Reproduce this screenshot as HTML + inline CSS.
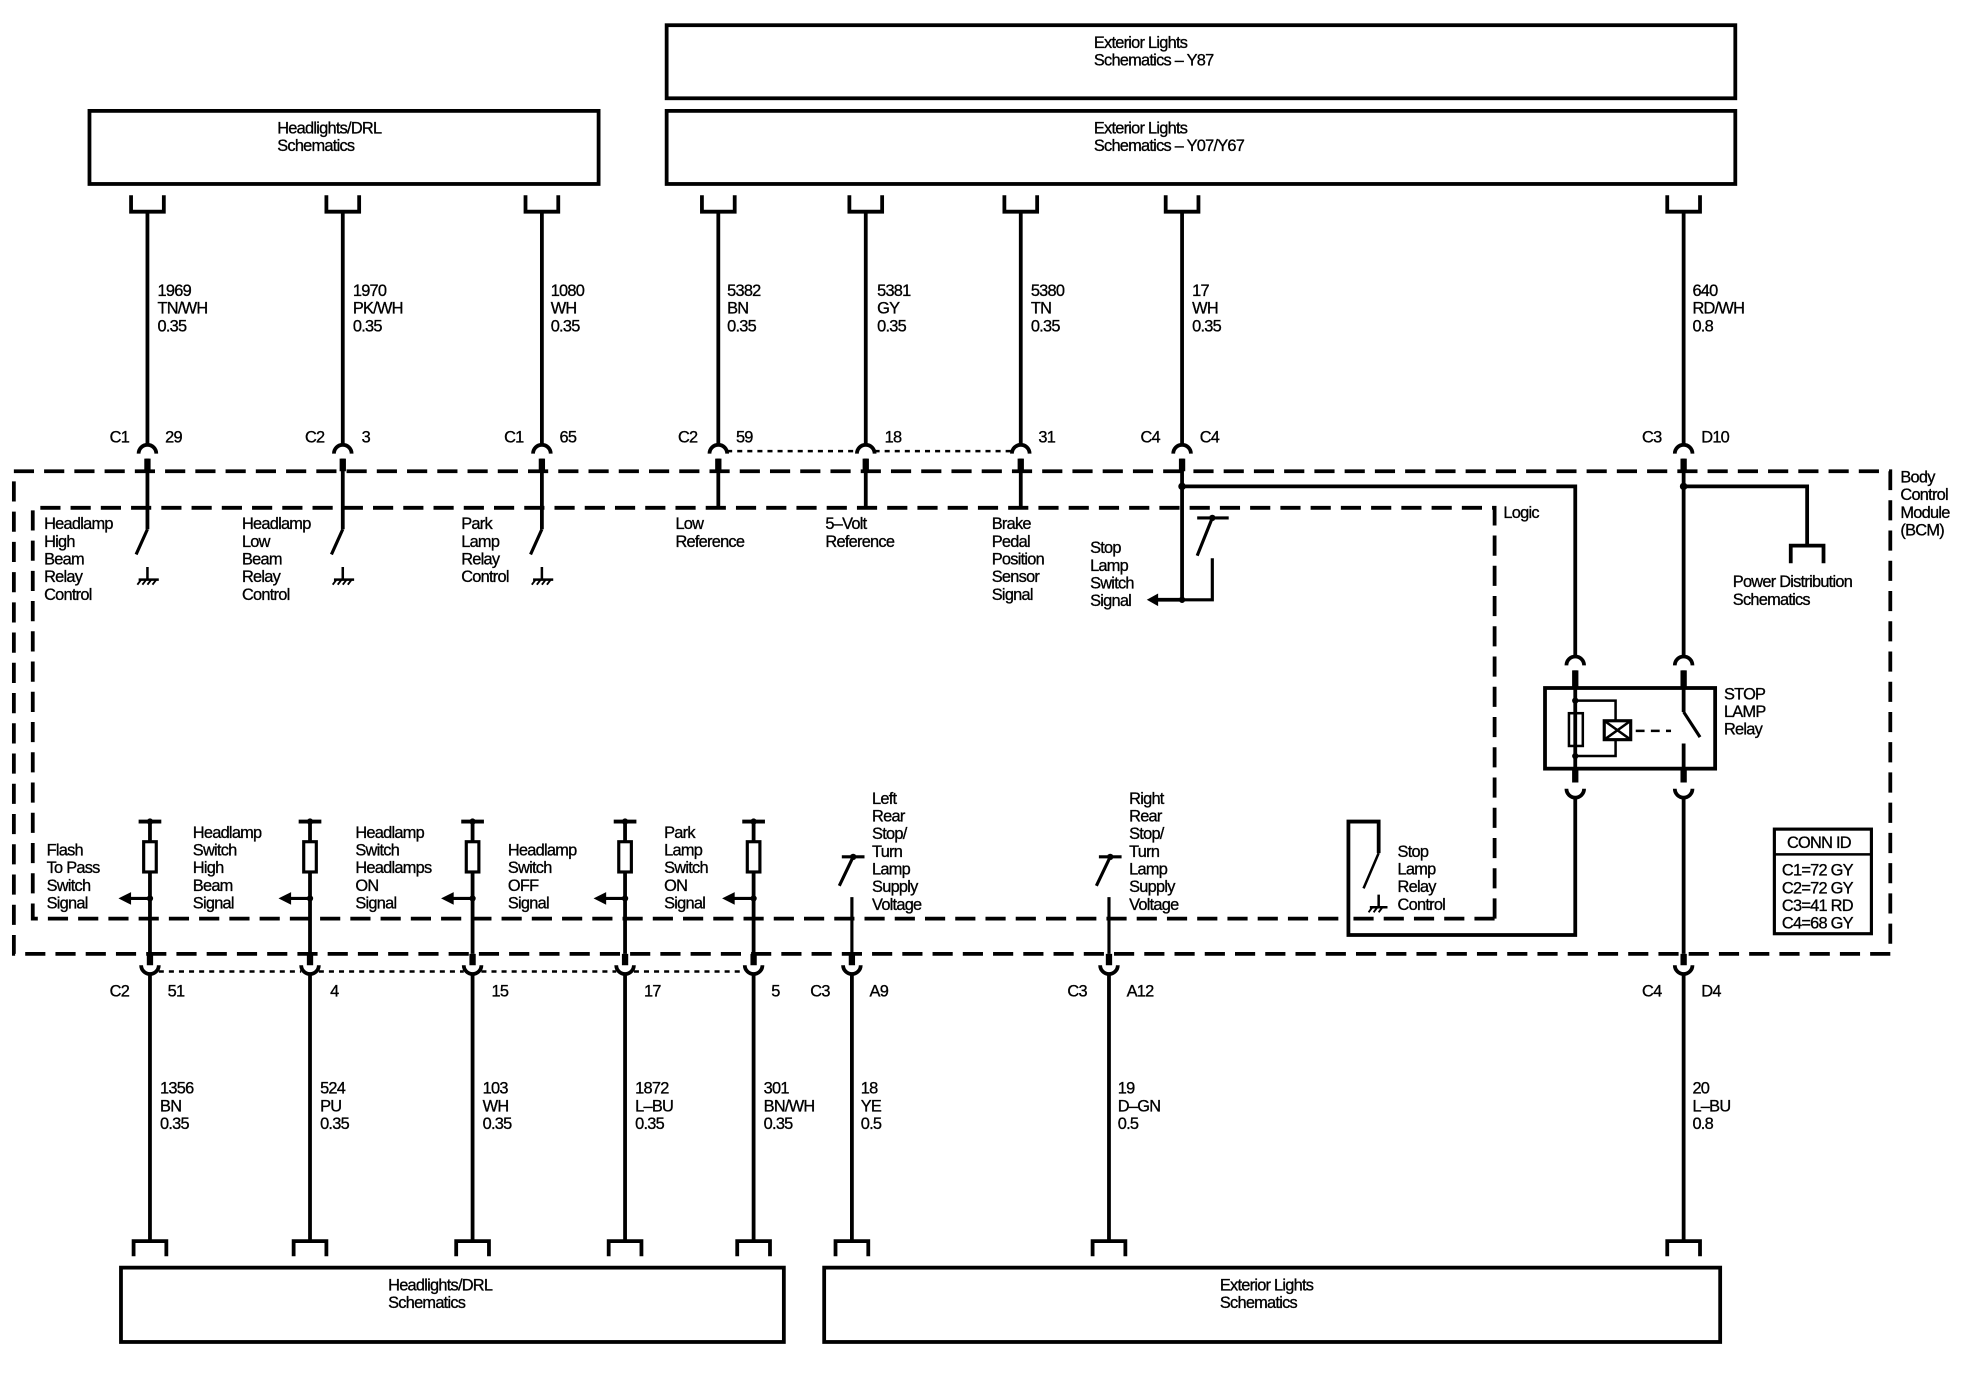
<!DOCTYPE html>
<html><head><meta charset="utf-8"><style>
html,body{margin:0;padding:0;background:#fff}
svg{display:block}
text{font-family:"Liberation Sans",sans-serif;font-size:13px;fill:#000;letter-spacing:-0.6px;stroke:#000;stroke-width:0.25px}
</style></head><body>
<svg width="1976" height="1376" viewBox="0 0 1568 1092" preserveAspectRatio="none" xmlns="http://www.w3.org/2000/svg">
<g fill="none" stroke="#000" stroke-width="3">
<rect x="529" y="20" width="848" height="58"/>
<rect x="529" y="88" width="848" height="58"/>
<rect x="71" y="88" width="404" height="58"/>
<rect x="96" y="1006" width="526" height="59"/>
<rect x="654" y="1006" width="711" height="59"/>
<path d="M104 155V168H130V155M259 155V168H285V155M417 155V168H443V155M557 155V168H583V155M674 155V168H700V155M797 155V168H823V155M925 155V168H951V155M1323 155V168H1349V155"/>
<path d="M117 168V352M272 168V352M430 168V352M570 168V352M687 168V352M810 168V352M938 168V352M1336 168V352"/>
<path d="M110 360A7 7 0 0 1 124 360M265 360A7 7 0 0 1 279 360M423 360A7 7 0 0 1 437 360M563 360A7 7 0 0 1 577 360M680 360A7 7 0 0 1 694 360M803 360A7 7 0 0 1 817 360M931 360A7 7 0 0 1 945 360M1329 360A7 7 0 0 1 1343 360"/>
<path d="M117 364V420M272 364V420M430 364V420M570 364V403M687 364V403M810 364V403M938 364V476H918M1336 364V520" />
<path d="M117 364V374M272 364V374M430 364V374M570 364V374M687 364V374M810 364V374M938 364V374M1336 364V374" stroke-width="5"/>
<path d="M577 358H680M694 358H803" stroke-dasharray="4 4" stroke-width="2"/>
<rect x="11" y="374" width="1489" height="383" stroke-dasharray="16 8"/>
<path d="M1186 729V403H26V729H1070M1186 729H1070" stroke-dasharray="16 8"/>
<path d="M117 420L108 440M272 420L263 440M430 420L421 440" stroke-width="2.5"/>
<path d="M117 450V460M110 460H126M272 450V460M265 460H281M430 450V460M423 460H439" stroke-width="2"/>
<path d="M112 460l-3 4M116 460l-3 4M120 460l-3 4M124 460l-3 4M267 460l-3 4M271 460l-3 4M275 460l-3 4M279 460l-3 4M425 460l-3 4M429 460l-3 4M433 460l-3 4M437 460l-3 4" stroke-width="1.5"/>
<path d="M950 411H975M962 411L950 441M962 443V476H938" stroke-width="2.5"/>
<path d="M938 386H1250V520M1336 386H1434V433M1421 447V433H1447V447"/>
<rect x="1226" y="546" width="135" height="64"/>
<path d="M1243 528A7 7 0 0 1 1257 528M1329 528A7 7 0 0 1 1343 528M1243 626A7 7 0 0 0 1257 626M1329 626A7 7 0 0 0 1343 626"/>
<path d="M1250 532V620M1336 532V565M1336 590V620M1250 632V742H1070V652H1094V677" />
<path d="M1250 532V546M1336 532V546M1250 610V621M1336 610V621" stroke-width="5"/>
<rect x="1245" y="566" width="11" height="26" stroke-width="2"/>
<path d="M1250 556H1282V572M1250 600H1282V587" stroke-width="2"/>
<rect x="1273" y="572" width="21" height="15" stroke-width="2.5"/>
<path d="M1273 572L1294 587M1294 572L1273 587" stroke-width="2"/>
<path d="M1298 580H1326" stroke-dasharray="7 5" stroke-width="2"/>
<path d="M1336 565L1349 585" stroke-width="2.5"/>
<path d="M1094 677L1082 705M1094 710V720M1087 720H1101" stroke-width="2"/>
<path d="M1089 720l-3 4M1093 720l-3 4M1097 720l-3 4" stroke-width="1.5"/>
<rect x="1408" y="658" width="77" height="83" stroke-width="2.5"/>
<path d="M1408 678H1485" stroke-width="2"/>
<path d="M110 652H128M237 652H255M366 652H384M487 652H505M589 652H607" stroke-width="3"/>
<path d="M119 652V668M246 652V668M375 652V668M496 652V668M598 652V668M119 692V757M246 692V757M375 692V757M496 692V757M598 692V757" />
<rect x="114" y="668" width="10" height="24" stroke-width="2.5"/>
<rect x="241" y="668" width="10" height="24" stroke-width="2.5"/>
<rect x="370" y="668" width="10" height="24" stroke-width="2.5"/>
<rect x="491" y="668" width="10" height="24" stroke-width="2.5"/>
<rect x="593" y="668" width="10" height="24" stroke-width="2.5"/>
<path d="M119 713H103M246 713H230M375 713H359M496 713H480M598 713H582" stroke-width="2.5"/>
<path d="M668 680H686M677 680L666 703M676 712V757M872 680H890M881 680L870 703M880 712V757" stroke-width="2.5"/>
<path d="M119 757V766M246 757V766M375 757V766M496 757V766M598 757V766M676 757V766M880 757V766M1336 757V766" stroke-width="5"/>
<path d="M1336 632V757"/>
<path d="M112 766A7 7 0 0 0 126 766M239 766A7 7 0 0 0 253 766M368 766A7 7 0 0 0 382 766M489 766A7 7 0 0 0 503 766M591 766A7 7 0 0 0 605 766M669 766A7 7 0 0 0 683 766M873 766A7 7 0 0 0 887 766M1329 766A7 7 0 0 0 1343 766"/>
<path d="M126 771H239M253 771H368M382 771H489M503 771H591" stroke-dasharray="4 4" stroke-width="2"/>
<path d="M119 773V985M246 773V985M375 773V985M496 773V985M598 773V985M676 773V985M880 773V985M1336 773V985"/>
<path d="M106 997V985H132V997M233 997V985H259V997M362 997V985H388V997M483 997V985H509V997M585 997V985H611V997M663 997V985H689V997M867 997V985H893V997M1323 997V985H1349V997"/>
</g>
<g fill="#000">
<circle cx="938" cy="386" r="3"/><circle cx="1336" cy="386" r="3"/><circle cx="938" cy="476" r="2.5"/><circle cx="962" cy="411" r="2.5"/>
<circle cx="1250" cy="556" r="2.5"/><circle cx="1250" cy="600" r="2.5"/>
<polygon points="910,476 919,471 919,481"/>
<circle cx="119" cy="652" r="2.5"/><circle cx="246" cy="652" r="2.5"/><circle cx="375" cy="652" r="2.5"/><circle cx="496" cy="652" r="2.5"/><circle cx="598" cy="652" r="2.5"/>
<circle cx="119" cy="713" r="2.5"/><circle cx="246" cy="713" r="2.5"/><circle cx="375" cy="713" r="2.5"/><circle cx="496" cy="713" r="2.5"/><circle cx="598" cy="713" r="2.5"/>
<polygon points="94,713 104,708 104,718"/><polygon points="221,713 231,708 231,718"/><polygon points="350,713 360,708 360,718"/><polygon points="471,713 481,708 481,718"/><polygon points="573,713 583,708 583,718"/>
<circle cx="677" cy="680" r="2.5"/><circle cx="881" cy="680" r="2.5"/>
</g>
<g>
<text x="868" y="38">Exterior Lights</text><text x="868" y="52">Schematics – Y87</text>
<text x="868" y="106">Exterior Lights</text><text x="868" y="120">Schematics – Y07/Y67</text>
<text x="220" y="106">Headlights/DRL</text><text x="220" y="120">Schematics</text>
<text x="308" y="1024">Headlights/DRL</text><text x="308" y="1038">Schematics</text>
<text x="968" y="1024">Exterior Lights</text><text x="968" y="1038">Schematics</text>
<text x="125" y="235">1969</text><text x="125" y="249">TN/WH</text><text x="125" y="263">0.35</text>
<text x="280" y="235">1970</text><text x="280" y="249">PK/WH</text><text x="280" y="263">0.35</text>
<text x="437" y="235">1080</text><text x="437" y="249">WH</text><text x="437" y="263">0.35</text>
<text x="577" y="235">5382</text><text x="577" y="249">BN</text><text x="577" y="263">0.35</text>
<text x="696" y="235">5381</text><text x="696" y="249">GY</text><text x="696" y="263">0.35</text>
<text x="818" y="235">5380</text><text x="818" y="249">TN</text><text x="818" y="263">0.35</text>
<text x="946" y="235">17</text><text x="946" y="249">WH</text><text x="946" y="263">0.35</text>
<text x="1343" y="235">640</text><text x="1343" y="249">RD/WH</text><text x="1343" y="263">0.8</text>
<text x="87" y="351">C1</text><text x="131" y="351">29</text>
<text x="242" y="351">C2</text><text x="287" y="351">3</text>
<text x="400" y="351">C1</text><text x="444" y="351">65</text>
<text x="538" y="351">C2</text><text x="584" y="351">59</text>
<text x="702" y="351">18</text>
<text x="824" y="351">31</text>
<text x="905" y="351">C4</text><text x="952" y="351">C4</text>
<text x="1303" y="351">C3</text><text x="1350" y="351">D10</text>
<text x="35" y="420">Headlamp</text><text x="35" y="434">High</text><text x="35" y="448">Beam</text><text x="35" y="462">Relay</text><text x="35" y="476">Control</text>
<text x="192" y="420">Headlamp</text><text x="192" y="434">Low</text><text x="192" y="448">Beam</text><text x="192" y="462">Relay</text><text x="192" y="476">Control</text>
<text x="366" y="420">Park</text><text x="366" y="434">Lamp</text><text x="366" y="448">Relay</text><text x="366" y="462">Control</text>
<text x="536" y="420">Low</text><text x="536" y="434">Reference</text>
<text x="655" y="420">5–Volt</text><text x="655" y="434">Reference</text>
<text x="787" y="420">Brake</text><text x="787" y="434">Pedal</text><text x="787" y="448">Position</text><text x="787" y="462">Sensor</text><text x="787" y="476">Signal</text>
<text x="865" y="439">Stop</text><text x="865" y="453">Lamp</text><text x="865" y="467">Switch</text><text x="865" y="481">Signal</text>
<text x="1193" y="411">Logic</text>
<text x="1508" y="383">Body</text><text x="1508" y="397">Control</text><text x="1508" y="411">Module</text><text x="1508" y="425">(BCM)</text>
<text x="1375" y="466">Power Distribution</text><text x="1375" y="480">Schematics</text>
<text x="1368" y="555">STOP</text><text x="1368" y="569">LAMP</text><text x="1368" y="583">Relay</text>
<text x="1109" y="680">Stop</text><text x="1109" y="694">Lamp</text><text x="1109" y="708">Relay</text><text x="1109" y="722">Control</text>
<text x="1418" y="673">CONN ID</text>
<text x="1414" y="695">C1=72 GY</text><text x="1414" y="709">C2=72 GY</text><text x="1414" y="723">C3=41 RD</text><text x="1414" y="737">C4=68 GY</text>
<text x="37" y="679">Flash</text><text x="37" y="693">To Pass</text><text x="37" y="707">Switch</text><text x="37" y="721">Signal</text>
<text x="153" y="665">Headlamp</text><text x="153" y="679">Switch</text><text x="153" y="693">High</text><text x="153" y="707">Beam</text><text x="153" y="721">Signal</text>
<text x="282" y="665">Headlamp</text><text x="282" y="679">Switch</text><text x="282" y="693">Headlamps</text><text x="282" y="707">ON</text><text x="282" y="721">Signal</text>
<text x="403" y="679">Headlamp</text><text x="403" y="693">Switch</text><text x="403" y="707">OFF</text><text x="403" y="721">Signal</text>
<text x="527" y="665">Park</text><text x="527" y="679">Lamp</text><text x="527" y="693">Switch</text><text x="527" y="707">ON</text><text x="527" y="721">Signal</text>
<text x="692" y="638">Left</text><text x="692" y="652">Rear</text><text x="692" y="666">Stop/</text><text x="692" y="680">Turn</text><text x="692" y="694">Lamp</text><text x="692" y="708">Supply</text><text x="692" y="722">Voltage</text>
<text x="896" y="638">Right</text><text x="896" y="652">Rear</text><text x="896" y="666">Stop/</text><text x="896" y="680">Turn</text><text x="896" y="694">Lamp</text><text x="896" y="708">Supply</text><text x="896" y="722">Voltage</text>
<text x="87" y="791">C2</text><text x="133" y="791">51</text>
<text x="262" y="791">4</text>
<text x="390" y="791">15</text>
<text x="511" y="791">17</text>
<text x="612" y="791">5</text>
<text x="643" y="791">C3</text><text x="690" y="791">A9</text>
<text x="847" y="791">C3</text><text x="894" y="791">A12</text>
<text x="1303" y="791">C4</text><text x="1350" y="791">D4</text>
<text x="127" y="868">1356</text><text x="127" y="882">BN</text><text x="127" y="896">0.35</text>
<text x="254" y="868">524</text><text x="254" y="882">PU</text><text x="254" y="896">0.35</text>
<text x="383" y="868">103</text><text x="383" y="882">WH</text><text x="383" y="896">0.35</text>
<text x="504" y="868">1872</text><text x="504" y="882">L–BU</text><text x="504" y="896">0.35</text>
<text x="606" y="868">301</text><text x="606" y="882">BN/WH</text><text x="606" y="896">0.35</text>
<text x="683" y="868">18</text><text x="683" y="882">YE</text><text x="683" y="896">0.5</text>
<text x="887" y="868">19</text><text x="887" y="882">D–GN</text><text x="887" y="896">0.5</text>
<text x="1343" y="868">20</text><text x="1343" y="882">L–BU</text><text x="1343" y="896">0.8</text>
</g>
</svg>
</body></html>
